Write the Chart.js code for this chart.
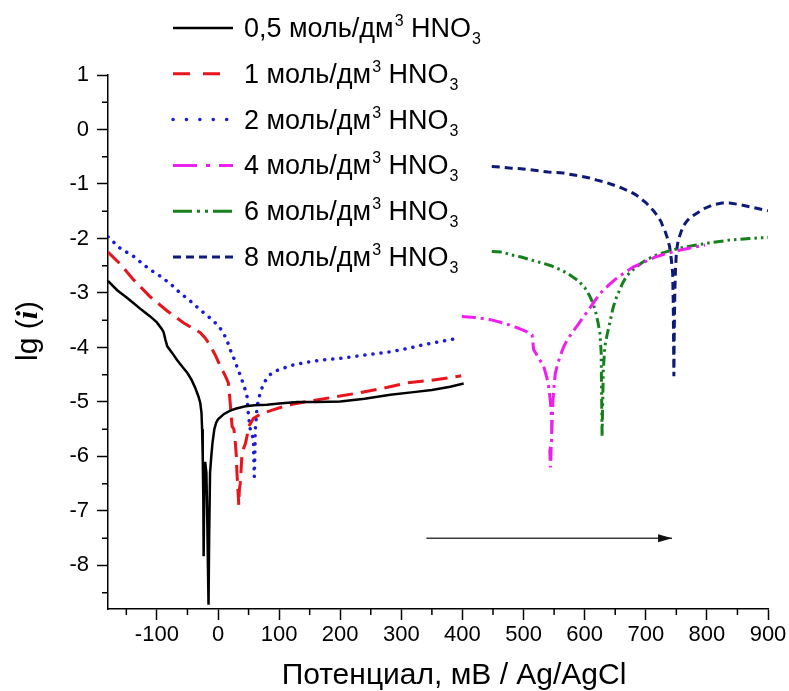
<!DOCTYPE html>
<html>
<head>
<meta charset="utf-8">
<script src="https://cdn.jsdelivr.net/npm/chart.js@4.4.1/dist/chart.umd.min.js"></script>
<style>
  html, body { margin: 0; padding: 0; background: #fff; }
  #plot { display: block; }
</style>
</head>
<body>
<canvas id="plot" width="789" height="691"></canvas>
<script>
// lg(i) vs potential, mV (Ag/AgCl), one curve per HNO3 concentration
const concentrations = ['0,5', '1', '2', '4', '6', '8'];

const c05 = [[-180,-2.78],[-165,-2.95],[-150,-3.08],[-138,-3.19],[-125,-3.31],[-111,-3.43],[-100,-3.54],[-92,-3.66],
  [-89,-3.72],[-86,-3.86],[-83,-3.98],[-75,-4.1],[-67,-4.23],[-58,-4.36],[-50,-4.47],[-43,-4.6],[-37,-4.75],[-32,-4.9],
  [-29,-5.02],[-27,-5.2],[-26,-5.5],[-25,-6.0],[-24,-6.8],[-23.5,-7.83],[-22.5,-6.6],[-21,-6.1],[-19,-6.3],[-17.5,-7.2],
  [-16.5,-8.0],[-15.5,-8.72],[-14.5,-7.5],[-13,-6.3],[-11,-6.0],[-9,-5.75],[-6,-5.5],[-3,-5.38],[0,-5.32],[5,-5.27],
  [10,-5.22],[20,-5.16],[30,-5.12],[45,-5.08],[60,-5.06],[80,-5.05],[100,-5.03],[130,-5.0],[160,-5.0],[200,-4.99],
  [240,-4.94],[282,-4.87],[320,-4.82],[350,-4.78],[380,-4.72],[402,-4.66]];

const c1 = [[-180,-2.25],[-160,-2.47],[-138,-2.76],[-111,-3.07],[-83,-3.33],[-56,-3.55],[-29,-3.73],[-20,-3.84],
  [-12,-3.98],[-4,-4.15],[4,-4.35],[11,-4.5],[17,-4.65],[20,-5.02],[23,-5.45],[26,-5.5],[28,-5.69],[30,-6.0],[31,-6.3],
  [32,-6.49],[34,-6.89],[35,-6.6],[36.5,-6.49],[38,-6.2],[39,-6.0],[42,-5.85],[45,-5.76],[48,-5.6],[50,-5.45],[54,-5.38],
  [58,-5.3],[70,-5.22],[91,-5.14],[115,-5.06],[146,-4.99],[185,-4.92],[227,-4.84],[270,-4.75],[309,-4.65],[350,-4.6],
  [394,-4.53],[398,-4.52]];

const c2 = [[-180,-1.97],[-160,-2.18],[-138,-2.33],[-114,-2.55],[-92,-2.71],[-76,-2.85],[-62,-3.0],[-45,-3.15],
  [-29,-3.31],[-17,-3.42],[-7,-3.52],[2,-3.62],[9,-3.74],[15,-3.88],[20,-4.04],[26,-4.2],[31,-4.35],[35,-4.47],
  [39,-4.59],[44,-4.76],[47.5,-4.9],[50,-5.27],[53,-5.51],[56,-5.6],[58,-5.76],[59.4,-6.37],[60.5,-5.9],[61,-5.51],
  [62.5,-5.3],[64,-5.08],[69,-4.84],[75,-4.65],[85,-4.5],[97,-4.42],[107,-4.38],[120,-4.33],[146,-4.27],[170,-4.23],
  [200,-4.2],[240,-4.14],[282,-4.08],[310,-4.02],[336,-3.95],[365,-3.89],[394,-3.83]];

const c4 = [[399,-3.43],[420,-3.45],[446,-3.49],[470,-3.56],[490,-3.64],[505,-3.71],[514,-3.77],[516.5,-4.04],
  [525,-4.2],[533,-4.35],[538,-4.55],[541,-4.72],[544,-5.0],[546,-5.33],[546,-5.7],[543,-5.9],[544,-6.2],[546,-5.6],
  [548,-5.0],[550,-4.7],[552,-4.47],[556,-4.3],[560,-4.15],[566,-3.98],[572,-3.85],[580,-3.72],[588,-3.6],[596,-3.47],
  [604,-3.35],[615,-3.17],[626,-3.0],[638,-2.87],[650,-2.75],[665,-2.63],[680,-2.52],[700,-2.42],[718,-2.33],
  [740,-2.26],[757,-2.21],[778,-2.16],[797,-2.12]];

const c6 = [[448,-2.24],[465,-2.25],[480,-2.3],[496,-2.34],[511,-2.39],[530,-2.45],[545,-2.5],[562,-2.58],[576,-2.67],
  [590,-2.78],[600,-2.9],[608,-3.05],[614,-3.2],[618,-3.35],[622,-3.55],[625,-3.74],[627,-4.1],[627.5,-4.6],[628,-5.1],
  [628.5,-5.63],[629.5,-5.0],[630.5,-4.4],[633,-3.98],[637,-3.75],[642,-3.5],[647,-3.25],[652,-3.08],[657,-2.95],
  [662,-2.82],[668,-2.7],[676,-2.6],[685,-2.52],[693,-2.45],[701,-2.39],[720,-2.29],[744,-2.21],[763,-2.16],
  [783,-2.12],[810,-2.07],[837,-2.03],[870,-2.0],[900,-1.98]];

const c8 = [[448,-0.68],[465,-0.69],[480,-0.71],[496,-0.72],[511,-0.74],[526,-0.76],[540,-0.78],[552,-0.79],[565,-0.8],
  [580,-0.83],[595,-0.86],[608,-0.89],[620,-0.93],[635,-0.97],[650,-1.03],[662,-1.08],[674,-1.14],[684,-1.2],
  [692,-1.27],[700,-1.34],[707,-1.42],[714,-1.51],[720,-1.6],[725,-1.69],[728,-1.78],[732,-1.88],[735,-1.98],
  [739,-2.15],[742,-2.4],[744,-2.64],[745,-3.2],[745.5,-3.9],[746,-4.53],[746.5,-3.8],[747.5,-3.0],[748.5,-2.6],
  [750,-2.27],[752,-2.1],[755,-1.97],[758,-1.87],[761,-1.78],[766,-1.7],[772,-1.62],[783,-1.54],[796,-1.45],
  [810,-1.38],[825,-1.35],[837,-1.35],[855,-1.38],[875,-1.43],[900,-1.49]];

// scan direction arrow
const scanArrow = [[341,-7.5],[743,-7.5]];

const xTicks = [-100, 0, 100, 200, 300, 400, 500, 600, 700, 800, 900];
const xMinor = [-150, -50, 50, 150, 250, 350, 450, 550, 650, 750, 850];
const yTicks = [-8, -7, -6, -5, -4, -3, -2, -1, 0, 1];
const yMinor = [-8.5, -7.5, -6.5, -5.5, -4.5, -3.5, -2.5, -1.5, -0.5, 0.5];

const SANS = "'Liberation Sans', Arial, sans-serif";
const toXY = arr => arr.map(p => ({ x: p[0], y: p[1] }));

const curves = [
  { data: c05, color: '#000000', width: 2.5, dash: [], legendDash: [], cap: 'butt' },
  { data: c1, color: '#e8141c', width: 3, dash: [16, 8], legendDash: [17, 13], cap: 'butt' },
  { data: c2, color: '#1a1adf', width: 3.5, dash: [0.1, 8], legendDash: [0.1, 13.3], cap: 'round' },
  { data: c4, color: '#ee1fee', width: 3, dash: [14, 5, 3, 5], legendDash: [24, 9, 4, 9], cap: 'butt' },
  { data: c6, color: '#16801c', width: 3, dash: [10, 4, 2.5, 4, 2.5, 4], legendDash: [19, 5, 3, 5, 3, 5], cap: 'butt' },
  { data: c8, color: '#0d1a78', width: 3, dash: [8, 5], legendDash: [8, 5], cap: 'butt' }
];

const datasets = curves.map((c, i) => ({
  label: concentrations[i],
  data: toXY(c.data),
  borderColor: c.color,
  borderWidth: c.width,
  borderDash: c.dash,
  borderCapStyle: c.cap,
  pointRadius: 0,
  fill: false,
  tension: 0
}));
datasets.push({
  label: 'arrow',
  data: toXY(scanArrow),
  borderColor: '#3c3c3c',
  borderWidth: 1.5,
  pointRadius: 0,
  fill: false
});

// minor ticks, arrow head, legend rows and axis titles
const extras = {
  id: 'extras',
  afterDraw(chart) {
    const ctx = chart.ctx;
    const xs = chart.scales.x, ys = chart.scales.y;
    const area = chart.chartArea;
    ctx.save();

    ctx.strokeStyle = '#000';
    ctx.lineWidth = 1.5;
    ctx.setLineDash([]);
    ctx.beginPath();
    xMinor.forEach(v => {
      const px = xs.getPixelForValue(v);
      ctx.moveTo(px, area.bottom);
      ctx.lineTo(px, area.bottom + 6);
    });
    yMinor.forEach(v => {
      const py = ys.getPixelForValue(v);
      ctx.moveTo(area.left, py);
      ctx.lineTo(area.left - 6, py);
    });
    ctx.stroke();

    // arrow head at the end of the scan line
    const pts = chart.getDatasetMeta(curves.length).data;
    const tip = pts[pts.length - 1];
    ctx.fillStyle = '#111';
    ctx.beginPath();
    ctx.moveTo(tip.x, tip.y);
    ctx.lineTo(tip.x - 14, tip.y - 4);
    ctx.lineTo(tip.x - 14, tip.y + 4);
    ctx.closePath();
    ctx.fill();

    // legend
    curves.forEach((c, i) => {
      const y = 28 + i * 45.8;
      ctx.beginPath();
      ctx.strokeStyle = c.color;
      ctx.lineWidth = c.width;
      ctx.lineCap = c.cap;
      ctx.setLineDash(c.legendDash);
      ctx.moveTo(173, y);
      ctx.lineTo(233, y);
      ctx.stroke();
      ctx.setLineDash([]);
      ctx.lineCap = 'butt';

      const base = y + 9;
      let x = 244;
      ctx.fillStyle = '#000';
      ctx.textBaseline = 'alphabetic';
      ctx.textAlign = 'left';
      ctx.font = '27px ' + SANS;
      const head = concentrations[i] + ' моль/дм';
      ctx.fillText(head, x, base);
      x += ctx.measureText(head).width + 1;
      ctx.font = '16px ' + SANS;
      ctx.fillText('3', x, base - 11);
      x += ctx.measureText('3').width;
      ctx.font = '27px ' + SANS;
      ctx.fillText(' HNO', x, base);
      x += ctx.measureText(' HNO').width + 1;
      ctx.font = '16px ' + SANS;
      ctx.fillText('3', x, base + 7);
    });

    // x axis title
    ctx.fillStyle = '#000';
    ctx.font = '30px ' + SANS;
    ctx.textAlign = 'center';
    ctx.fillText('Потенциал, мВ / Ag/AgCl', (area.left + area.right) / 2 + 16, 684);

    // y axis title: lg (i) with bold italic i
    ctx.translate(37, 331);
    ctx.rotate(-Math.PI / 2);
    ctx.textAlign = 'left';
    const parts = [
      ['lg (', '30px ' + SANS],
      ['i', 'bold italic 30px "Liberation Serif", serif'],
      [')', '30px ' + SANS]
    ];
    let total = 0;
    parts.forEach(p => { ctx.font = p[1]; total += ctx.measureText(p[0]).width; });
    let tx = -total / 2;
    parts.forEach(p => {
      ctx.font = p[1];
      ctx.fillText(p[0], tx, 0);
      tx += ctx.measureText(p[0]).width;
    });
    ctx.restore();
  }
};

new Chart(document.getElementById('plot'), {
  type: 'line',
  data: { datasets },
  plugins: [extras],
  options: {
    responsive: false,
    animation: false,
    devicePixelRatio: 1,
    layout: { padding: { top: 75, right: 21, left: 0, bottom: 0 } },
    plugins: { legend: { display: false }, tooltip: { enabled: false } },
    scales: {
      x: {
        type: 'linear',
        min: -180,
        max: 900,
        afterBuildTicks: s => { s.ticks = xTicks.map(v => ({ value: v })); },
        afterFit: s => { s.height = 82; },
        ticks: { color: '#000', font: { family: SANS, size: 22 }, padding: 2, maxRotation: 0 },
        grid: { drawOnChartArea: false, tickLength: 11, tickWidth: 1.5, tickColor: '#000' },
        border: { color: '#000', width: 1.5 }
      },
      y: {
        type: 'linear',
        min: -8.8,
        max: 1,
        afterBuildTicks: s => { s.ticks = yTicks.map(v => ({ value: v })); },
        afterFit: s => { s.width = 108; },
        ticks: { color: '#000', font: { family: SANS, size: 22 }, padding: 8 },
        grid: { drawOnChartArea: false, tickLength: 11, tickWidth: 1.5, tickColor: '#000' },
        border: { color: '#000', width: 1.5 }
      }
    }
  }
});
</script>
</body>
</html>
